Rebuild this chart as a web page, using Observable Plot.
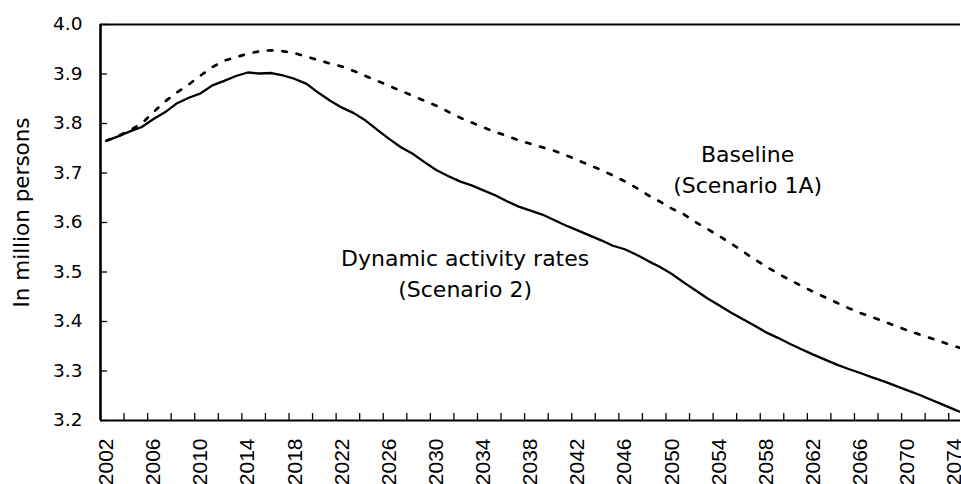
<!DOCTYPE html>
<html>
<head>
<meta charset="utf-8">
<script src="https://cdn.jsdelivr.net/npm/d3@7"></script>
<script src="https://cdn.jsdelivr.net/npm/@observablehq/plot@0.6"></script>
<style>
  body { margin: 0; background: #fff; overflow: hidden; }
  #chart svg { display: block; }
</style>
</head>
<body>
<div id="chart"></div>
<script>
// Categories (years)
const years = [
  2002, 2003, 2004, 2005, 2006, 2007, 2008, 2009, 2010, 2011,
  2012, 2013, 2014, 2015, 2016, 2017, 2018, 2019, 2020, 2021,
  2022, 2023, 2024, 2025, 2026, 2027, 2028, 2029, 2030, 2031,
  2032, 2033, 2034, 2035, 2036, 2037, 2038, 2039, 2040, 2041,
  2042, 2043, 2044, 2045, 2046, 2047, 2048, 2049, 2050, 2051,
  2052, 2053, 2054, 2055, 2056, 2057, 2058, 2059, 2060, 2061,
  2062, 2063, 2064, 2065, 2066, 2067, 2068, 2069, 2070, 2071,
  2072, 2073, 2074, 2075
];

// Series: Baseline (Scenario 1A), million persons
const baseline = [
  3.765, 3.775, 3.786, 3.800, 3.823, 3.845, 3.863, 3.879, 3.897, 3.914,
  3.927, 3.934, 3.941, 3.946, 3.948, 3.946, 3.942, 3.935, 3.928, 3.921,
  3.915, 3.906, 3.896, 3.886, 3.876, 3.866, 3.856, 3.846, 3.836, 3.824,
  3.812, 3.802, 3.792, 3.783, 3.775, 3.766, 3.759, 3.752, 3.745, 3.736,
  3.726, 3.716, 3.706, 3.695, 3.683, 3.670, 3.655, 3.642, 3.628, 3.617,
  3.601, 3.587, 3.573, 3.558, 3.542, 3.526, 3.511, 3.497, 3.484, 3.472,
  3.460, 3.449, 3.438, 3.427, 3.417, 3.409, 3.400, 3.391, 3.382, 3.374,
  3.366, 3.358, 3.350, 3.343
];

// Series: Dynamic activity rates (Scenario 2), million persons
const dynamicRates = [
  3.765, 3.774, 3.784, 3.793, 3.809, 3.823, 3.841, 3.852, 3.861, 3.877,
  3.886, 3.896, 3.903, 3.901, 3.902, 3.897, 3.890, 3.880, 3.862, 3.846,
  3.832, 3.821, 3.806, 3.787, 3.769, 3.752, 3.739, 3.722, 3.706, 3.694,
  3.683, 3.675, 3.665, 3.655, 3.643, 3.632, 3.624, 3.616, 3.605, 3.594,
  3.584, 3.574, 3.564, 3.553, 3.546, 3.535, 3.522, 3.510, 3.496, 3.479,
  3.463, 3.447, 3.433, 3.418, 3.405, 3.392, 3.378, 3.367, 3.355, 3.344,
  3.333, 3.323, 3.313, 3.304, 3.296, 3.287, 3.279, 3.270, 3.261, 3.252,
  3.242, 3.232, 3.222, 3.212
];

// Axis ticks
const yTicks = [3.2, 3.3, 3.4, 3.5, 3.6, 3.7, 3.8, 3.9, 4.0];
const xLabelYears = [
  2002, 2006, 2010, 2014, 2018, 2022, 2026, 2030, 2034, 2038,
  2042, 2046, 2050, 2054, 2058, 2062, 2066, 2070, 2074
];
const xDomain = [2001.5, 2074.5];
const yDomain = [3.2, 4.0];
// tick marks sit between categories, every second year
const xTickMarks = d3.range(xDomain[0] + 2, xDomain[1], 2);

// Annotations
const annotations = [
  { year: 2032.45, value: 3.4485, text: "Dynamic activity rates\n(Scenario 2)" },
  { year: 2056.43, value: 3.6586, text: "Baseline\n(Scenario 1A)" }
];

const rows = years.map((y, i) => ({ year: y, baseline: baseline[i], dynamic: dynamicRates[i] }));

const W = 961, H = 484, ML = 100, MR = 1, MT = 24, MB = 64;
const plotW = W - ML - MR, plotH = H - MT - MB;

const gothic = "'DejaVu Sans', sans-serif";
const arial = "'Liberation Sans', Arial, sans-serif";

const chart = Plot.plot({
  width: W,
  height: H,
  marginLeft: ML,
  marginRight: MR,
  marginTop: MT,
  marginBottom: MB,
  style: { background: "#fff", color: "#000", overflow: "hidden" },
  x: { domain: xDomain, label: null },
  y: { domain: yDomain, label: null },
  marks: [
    // y tick labels
    Plot.axisY({ ticks: yTicks, tickSize: 0, tickPadding: 18, tickFormat: d3.format(".1f"),
      fontSize: 18.5, fontFamily: gothic, fill: "#000", label: null }),
    // x tick labels
    Plot.axisX({ ticks: xLabelYears, tickSize: 0, tickPadding: 18, tickRotate: -90,
      tickFormat: d => String(d), fontSize: 21, fontFamily: arial, fill: "#000", label: null }),
    // inward tick marks
    Plot.ruleY(yTicks, { stroke: "#000", strokeWidth: 1.3, insetRight: plotW - 7 }),
    Plot.ruleX(xTickMarks, { stroke: "#000", strokeWidth: 1.3, insetTop: plotH - 7 }),
    // y axis title
    Plot.text(["In million persons"], { frameAnchor: "left", textAnchor: "middle", lineAnchor: "middle",
      rotate: -90, dx: -78, dy: -10, fontSize: 21.5, fontFamily: gothic, fill: "#000" }),
    // lines
    Plot.line(rows, { x: "year", y: "baseline", stroke: "#000", strokeWidth: 2.7,
      strokeDasharray: "4.5,10", clip: true }),
    Plot.line(rows, { x: "year", y: "dynamic", stroke: "#000", strokeWidth: 2.3, clip: true }),
    // annotations
    Plot.text(annotations, { x: "year", y: "value", text: "text", lineAnchor: "bottom",
      textAnchor: "middle", lineHeight: 1.41, fontSize: 22, fontFamily: gothic, fill: "#000" }),
    // frame lines: top, bottom, left
    Plot.ruleY(yDomain, { stroke: "#000", strokeWidth: 2.2 }),
    Plot.ruleX([xDomain[0]], { stroke: "#000", strokeWidth: 2.6 })
  ]
});

document.getElementById("chart").appendChild(chart);
</script>
</body>
</html>
